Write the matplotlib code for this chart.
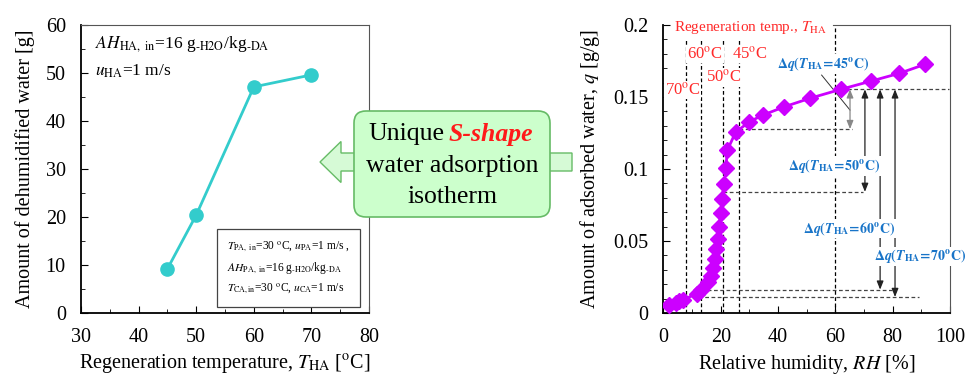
import matplotlib
matplotlib.use("Agg")
import matplotlib.pyplot as plt
from matplotlib.patches import FancyBboxPatch, FancyArrow
from matplotlib.ticker import MultipleLocator

plt.rcParams['font.family'] = ['Liberation Serif', 'DejaVu Serif']
plt.rcParams['mathtext.fontset'] = 'stix'

# left panel: dehumidified water vs regeneration temperature
temp_ha = [45, 50, 60, 70]
dehum_water = [9.2, 20.4, 47.1, 49.6]

# right panel: water adsorption isotherm
rh = [2.1, 4.4, 5.5, 6.8, 11.6, 13.2, 15.7, 16.6, 17.3, 17.9, 18.5, 19.1, 19.5,
      20.0, 20.4, 21.2, 21.8, 22.3, 25.2, 30.0, 34.7, 42.2, 51.3, 61.9, 72.4,
      82.3, 91.3]
q_ads = [0.0053, 0.0072, 0.0080, 0.0090, 0.0135, 0.0160, 0.0216, 0.0260, 0.0310,
         0.0375, 0.0447, 0.0517, 0.0600, 0.0695, 0.0790, 0.0899, 0.1010, 0.1130,
         0.1255, 0.1328, 0.1374, 0.1432, 0.1492, 0.1553, 0.1610, 0.1664, 0.1727]

# regeneration temperatures and the RH / q they reach
regen_temps = [70, 60, 50, 45]
regen_rh = [7.9, 13.1, 20.9, 26.5]
regen_q = [0.0111, 0.0162, 0.0841, 0.1277]
ha_rh = 60.0
ha_q = 0.1553
arrow_rh = [80.8, 75.6, 70.3, 65.1]
hline_end = [89.3, 79.7, 69.8, 65.7]

fig = plt.figure(figsize=(9.67, 3.76), dpi=100)
ax1 = fig.add_axes([0.0838, 0.1676, 0.2978, 0.766])
ax2 = fig.add_axes([0.686, 0.1676, 0.2965, 0.766])

teal = '#33CCCC'
magenta = '#CC00FF'
red = '#FF2A2A'
blue = '#1874C8'
FS = 14.5


def style_axes(ax):
    ax.tick_params(which='both', direction='in', labelsize=FS, pad=11)
    ax.tick_params(which='major', length=5)
    ax.tick_params(which='minor', length=3)
    ax.tick_params(top=False, right=False)
    for s in ['left', 'bottom']:
        ax.spines[s].set_linewidth(1.3)
    for s in ['top', 'right']:
        ax.spines[s].set_linewidth(0.8)
        ax.spines[s].set_color('#555555')


# ---- left chart
ax1.plot(temp_ha, dehum_water, color=teal, lw=2, marker='o', markersize=9.5)
ax1.set_xlim(30, 80)
ax1.set_ylim(0, 60)
ax1.xaxis.set_major_locator(MultipleLocator(10))
ax1.xaxis.set_minor_locator(MultipleLocator(5))
ax1.yaxis.set_major_locator(MultipleLocator(10))
ax1.yaxis.set_minor_locator(MultipleLocator(5))
style_axes(ax1)
ax1.set_xlabel(r"Regeneration temperature, $T_{\rm HA}$ [$^{\rm o}$C]", fontsize=FS,
               labelpad=4)
ax1.set_ylabel("Amount of dehumidified water [g]", fontsize=FS, labelpad=8)
ax1.text(0.05, 0.935, r"$AH_{\rm HA,\ in}$=16 g$_{\text{-H2O}}$/kg$_{\text{-DA}}$",
         transform=ax1.transAxes, fontsize=12.5, va='center')
ax1.text(0.05, 0.84, r"$u_{\rm HA}$=1 m/s", transform=ax1.transAxes,
         fontsize=12.5, va='center')
ax1.text(0.507, 0.156,
         r"$T_{\rm PA,\ in}$=30 $^{\rm o}$C, $u_{\rm PA}$=1 m/s ," "\n"
         r"$AH_{\rm PA,\ in}$=16 g$_{\text{-H2O}}$/kg$_{\text{-DA}}$" "\n"
         r"$T_{\rm CA,in}$=30 $^{\rm o}$C, $u_{\rm CA}$=1 m/s",
         transform=ax1.transAxes, fontsize=8.3, va='center', ha='left',
         linespacing=1.55,
         bbox=dict(boxstyle='square,pad=0.9', fc='white', ec='#444444', lw=0.9))

# ---- right chart
ax2.set_xlim(0, 100)
ax2.set_ylim(0, 0.2)
ax2.xaxis.set_major_locator(MultipleLocator(20))
ax2.xaxis.set_minor_locator(MultipleLocator(10))
ax2.yaxis.set_major_locator(MultipleLocator(0.05))
ax2.yaxis.set_minor_locator(MultipleLocator(0.01))
ax2.yaxis.set_major_formatter(plt.FuncFormatter(lambda v, p: '%g' % round(v, 3)))
style_axes(ax2)
ax2.spines['top'].set_bounds(59, 100)
ax2.set_xlabel(r"Relative humidity, $RH$ [%]", fontsize=FS, labelpad=4)
ax2.set_ylabel(r"Amount of adsorbed water, $q$ [g/g]", fontsize=FS, labelpad=8)

dash = dict(ls=(0, (3, 2)), lw=0.9)
for x in regen_rh:
    ax2.plot([x, x], [0, 0.19], color='black', **dash)
ax2.plot([ha_rh, ha_rh], [0, 0.2], color='black', **dash)
ax2.plot([ha_rh, 99.5], [ha_q, ha_q], color='#444444', **dash)
for x0, x1, qv in zip(regen_rh, hline_end, regen_q):
    ax2.plot([x0, x1], [qv, qv], color='#444444', **dash)

for i, (xa, qv) in enumerate(zip(arrow_rh, regen_q)):
    col = '#888888' if regen_temps[i] == 45 else '#222222'
    ax2.annotate('', xy=(xa, qv), xytext=(xa, ha_q),
                 arrowprops=dict(arrowstyle='<|-|>,head_length=0.5,head_width=0.2',
                                 color=col, lw=0.9, shrinkA=0, shrinkB=0))

ax2.plot(rh, q_ads, color=magenta, lw=2, marker='D', markersize=8, zorder=5)

# red labels
ax2.text(30.2, 0.1985, r"Regeneration temp., $T_{\rm HA}$", color=red,
         fontsize=11, ha='center', va='center', clip_on=False, zorder=6,
         bbox=dict(boxstyle='square,pad=0.15', fc='white', ec='none'))
red_pos = [(6.7, 0.155), (14.5, 0.180), (21.2, 0.1636), (30.0, 0.180)]
for t, (x, y) in zip(regen_temps, red_pos):
    ax2.text(x, y, r"%d$^{\rm o}$C" % t, color=red, fontsize=12, ha='center',
             va='center', zorder=6,
             bbox=dict(boxstyle='square,pad=0.05', fc='white', ec='none'))

# blue labels
blue_pos = [(89.4, 0.0394), (64.9, 0.0586), (59.5, 0.1022), (55.6, 0.1729)]
for t, (x, y) in zip(regen_temps, blue_pos):
    ax2.text(x, y,
             r"$\mathbf{\Delta}\mathbfit{q}\mathbf{(}\mathbfit{T}_{\mathbf{HA}}\!\mathbf{=}\!\mathbf{%d^{o}C)}$" % t,
             color=blue, fontsize=10, ha='center', va='center', zorder=6,
             clip_on=False,
             bbox=dict(boxstyle='square,pad=0.05', fc='white', ec='none'))
ax2.plot([55.2, 65.1], [0.1652, 0.1409], color='#333333', lw=0.7)

# ---- central callout, in figure pixels
ov = fig.add_axes([0, 0, 1, 1])
ov.set_xlim(0, 967)
ov.set_ylim(376, 0)
ov.axis('off')
ov.add_patch(FancyArrow(572, 162, -252, 0, width=18, head_width=41,
                        head_length=21, length_includes_head=True,
                        fc='#D6FAD6', ec='#66BB66', lw=1))
ov.add_patch(FancyBboxPatch((354, 111), 196, 106,
                            boxstyle='round,pad=0,rounding_size=12',
                            fc='#CCFFCC', ec='#66BB66', lw=1.2))
ov.text(444, 134, "Unique", fontsize=18.5, ha='right', va='center')
ov.text(449, 134, "S-shape", fontsize=18.5, ha='left', va='center',
        color='#FF1A1A', fontweight='bold', fontstyle='italic')
ov.text(452, 166, "water adsorption", fontsize=18.5, ha='center', va='center')
ov.text(452, 197, "isotherm", fontsize=18.5, ha='center', va='center')

fig.savefig("out.png", dpi=100)
